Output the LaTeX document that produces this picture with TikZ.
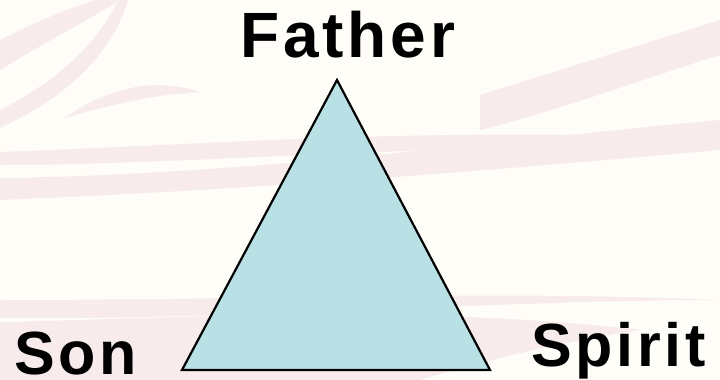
\documentclass[tikz,border=0pt]{standalone}
\usepackage{fontspec}
\newfontfamily\namefont[LetterSpace=6]{Liberation Sans}
\usetikzlibrary{positioning}

\definecolor{bgcream}{RGB}{255,253,248}
\definecolor{swirlpink}{RGB}{247,236,235}
\definecolor{triface}{RGB}{185,224,228}

\begin{document}
\begin{tikzpicture}[
      x=1pt, y=-1pt,
      swirl/.style={fill=swirlpink, draw=none},
      namelabel/.style={inner sep=0pt, anchor=base west, text depth=0pt},
      bigname/.style={namelabel, font=\namefont\bfseries\fontsize{64}{64}\selectfont},
      smallname/.style={namelabel, font=\namefont\bfseries\fontsize{61}{61}\selectfont},
  ]

  % Background
  \useasboundingbox (0,0) rectangle (720,380);
  \fill[bgcream] (0,0) rectangle (720,380);

  % --- faint swirls ---
  \fill[swirl] (0,40) .. controls (40,20) and (70,8) .. (95,0) -- (120,0)
      .. controls (80,25) and (40,45) .. (0,70) -- cycle;
  \fill[swirl] (0,110) .. controls (60,80) and (100,40) .. (118,0) -- (128,0)
      .. controls (110,60) and (60,100) .. (0,128) -- cycle;
  \fill[swirl] (65,118) .. controls (110,85) and (160,78) .. (200,92)
      .. controls (150,95) and (110,105) .. cycle;
  \fill[swirl] (0,152) .. controls (200,145) and (450,125) .. (720,140)
      -- (720,150) .. controls (450,140) and (200,165) .. (0,165) -- cycle;
  \fill[swirl] (0,178) .. controls (250,175) and (500,140) .. (720,120)
      -- (720,300) .. controls (500,300) and (250,320) .. (0,318) -- cycle;
  \fill[bgcream] (0,200) .. controls (250,190) and (500,170) .. (720,150)
      -- (720,300) .. controls (500,290) and (250,300) .. (0,300) -- cycle;
  \fill[swirl] (480,95) .. controls (560,70) and (640,45) .. (720,20)
      -- (720,55) .. controls (640,80) and (560,110) .. (480,130) -- cycle;
  \fill[swirl] (0,322) .. controls (200,318) and (450,300) .. (720,340)
      -- (720,380) -- (0,380) -- cycle;
  \fill[bgcream] (420,380) .. controls (520,350) and (620,330) .. (720,320)
      -- (720,380) -- cycle;

  % --- Triangle ---
  \coordinate (top) at (337,80);
  \coordinate (left) at (182,370);
  \coordinate (right) at (490,370);
  \draw[fill=triface, line width=2.2pt, line join=miter] (top) -- (left) -- (right) -- cycle;

  % --- Names ---
  \node[bigname] (father) at (240,57) {Father};
  \node[smallname] (son) at (14,374) {Son};
  \node[smallname] (spirit) at (531,366) {Spirit};

\end{tikzpicture}
\end{document}
